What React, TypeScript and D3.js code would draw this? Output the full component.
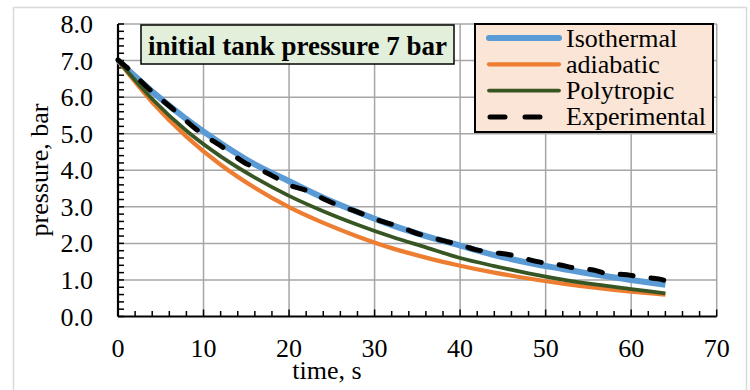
import * as d3 from "d3";

const modelTime = [0, 4, 8, 12, 16, 20, 24, 28, 32, 36, 40, 44, 48, 52, 56, 60, 64];
const isothermal = [7.0, 6.15, 5.4, 4.74, 4.16, 3.7, 3.25, 2.86, 2.5, 2.2, 1.94, 1.68, 1.47, 1.3, 1.14, 1.0, 0.87];
const adiabatic = [7.0, 5.86, 4.92, 4.15, 3.52, 2.99, 2.56, 2.19, 1.87, 1.61, 1.39, 1.2, 1.04, 0.9, 0.78, 0.68, 0.6];
const polytropic = [7.0, 5.95, 5.08, 4.38, 3.8, 3.3, 2.88, 2.51, 2.18, 1.89, 1.6, 1.38, 1.18, 1.01, 0.87, 0.75, 0.63];

const expTime = [0, 1, 3.5, 6.5, 9.2, 12.3, 15, 16.6, 18.9, 20, 22.1, 24, 26, 27.5, 29.5, 30.5, 33.4, 34.3, 37.3, 39, 40.8, 41.8, 43.9, 45.8, 47.8, 49.5, 51.7, 53.3, 55.6, 57.2, 59.5, 61, 63.2, 64.2];
const experimental = [7.02, 6.82, 6.25, 5.66, 5.11, 4.62, 4.18, 4.02, 3.74, 3.6, 3.44, 3.22, 3.02, 2.9, 2.72, 2.63, 2.42, 2.33, 2.12, 2.02, 1.9, 1.83, 1.75, 1.69, 1.57, 1.48, 1.41, 1.33, 1.27, 1.17, 1.14, 1.08, 1.03, 0.97];

const xTicks = [0, 10, 20, 30, 40, 50, 60, 70];
const yTicks = [0, 1, 2, 3, 4, 5, 6, 7, 8];
const seriesNames = ["Isothermal", "adiabatic", "Polytropic", "Experimental"];
const chartTitle = "initial tank pressure 7 bar";
const xLabel = "time, s";
const yLabel = "pressure, bar";

const W = 750;
const H = 390;
const font = "'Liberation Serif', 'Times New Roman', serif";

export default function App() {
  const x = d3.scaleLinear().domain([0, 70]).range([118, 716.7]);
  const y = d3.scaleLinear().domain([0, 8]).range([316.5, 24]);

  const line = d3
    .line<[number, number]>()
    .x((d) => x(d[0]))
    .y((d) => y(d[1]))
    .curve(d3.curveMonotoneX);

  const pairs = (ts: number[], vs: number[]) => ts.map((t, i) => [t, vs[i]] as [number, number]);

  const series = [
    { name: seriesNames[0], d: line(pairs(modelTime, isothermal)), color: "#5b9bd5", w: 6, dash: undefined },
    { name: seriesNames[1], d: line(pairs(modelTime, adiabatic)), color: "#ed7d31", w: 4.2, dash: undefined },
    { name: seriesNames[2], d: line(pairs(modelTime, polytropic)), color: "#375623", w: 3.8, dash: undefined },
    { name: seriesNames[3], d: line(pairs(expTime, experimental)), color: "#000000", w: 5, dash: "13 18" },
  ];

  const xMinor = d3.range(0, 70.01, 2);
  const yMinor = d3.range(0, 8.01, 0.2);
  const fmt = d3.format(".1f");

  return (
    <svg width={W} height={H} style={{ position: "absolute", left: 0, top: 0 }} fontFamily={font}>
      <rect x={0} y={0} width={W} height={H} fill="#fff" />
      <rect x={13.5} y={7.5} width={733} height={390} fill="#fff" stroke="#d9d9d9" strokeWidth={1.5} />

      {/* grid */}
      {xTicks.slice(1).map((t) => (
        <line key={"gx" + t} x1={x(t)} x2={x(t)} y1={y(0)} y2={y(8)} stroke="#a6a6a6" strokeWidth={1.5} />
      ))}
      {yTicks.slice(1).map((v) => (
        <line key={"gy" + v} x1={x(0)} x2={x(70)} y1={y(v)} y2={y(v)} stroke="#a6a6a6" strokeWidth={1.5} />
      ))}

      {/* axes with inside ticks */}
      {xMinor.map((t) => (
        <line key={"tx" + t} x1={x(t)} x2={x(t)} y1={y(0)} y2={y(0) - (t % 10 === 0 ? 7 : 5.5)} stroke="#000" strokeWidth={1.5} />
      ))}
      {yMinor.map((v) => (
        <line key={"ty" + v} x1={x(0)} x2={x(0) + 6} y1={y(v)} y2={y(v)} stroke="#000" strokeWidth={1.5} />
      ))}
      <line x1={x(0)} x2={x(70)} y1={y(0)} y2={y(0)} stroke="#000" strokeWidth={2.2} />
      <line x1={x(0)} x2={x(0)} y1={y(0)} y2={y(8)} stroke="#000" strokeWidth={2.2} />

      {/* tick labels */}
      {yTicks.map((v) => (
        <text key={"ly" + v} x={93} y={y(v)} dy="0.35em" textAnchor="end" fontSize={26} fill="#000">
          {fmt(v)}
        </text>
      ))}
      {xTicks.map((t) => (
        <text key={"lx" + t} x={x(t)} y={357} textAnchor="middle" fontSize={26} fill="#000">
          {t}
        </text>
      ))}
      <text x={327} y={379} textAnchor="middle" fontSize={26} fill="#000">
        {xLabel}
      </text>
      <text transform={`translate(48,170) rotate(-90)`} textAnchor="middle" fontSize={26} fill="#000">
        {yLabel}
      </text>

      {/* series */}
      {series.map((s) => (
        <path
          key={s.name}
          d={s.d ?? ""}
          fill="none"
          stroke={s.color}
          strokeWidth={s.w}
          strokeDasharray={s.dash}
          strokeLinecap={s.dash ? "round" : "butt"}
          strokeLinejoin="round"
        />
      ))}

      {/* title box */}
      <rect x={141} y={25} width={313} height={39} fill="#e2efda" stroke="#000" strokeWidth={1.5} />
      <text x={297.5} y={54.5} textAnchor="middle" fontSize={27} fontWeight="bold" fill="#000">
        {chartTitle}
      </text>

      {/* legend */}
      <rect x={475} y={24} width={238} height={108} fill="#fbe5d6" stroke="#000" strokeWidth={2} />
      {series.map((s, i) => {
        const cy = 38 + i * 26.3;
        return (
          <g key={"lg" + s.name}>
            <line
              x1={s.dash ? 490 : 489}
              x2={s.dash ? 540 : 559}
              y1={cy}
              y2={cy}
              stroke={s.color}
              strokeWidth={s.dash ? 5 : s.w}
              strokeDasharray={s.dash ? "15 20" : undefined}
              strokeLinecap="round"
            />
            <text x={566} y={cy} dy="0.33em" fontSize={26} fill="#000">
              {s.name}
            </text>
          </g>
        );
      })}
    </svg>
  );
}
